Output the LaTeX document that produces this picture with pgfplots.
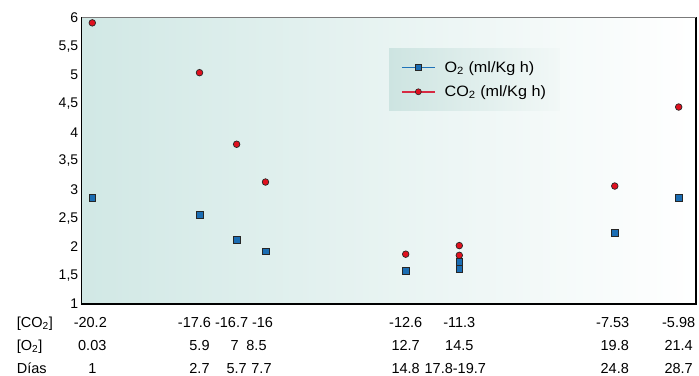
\documentclass[border=0pt]{standalone}
\usepackage{fontspec}
\setmainfont{Liberation Sans}
\newfontfamily\widefont{Liberation Sans}[FakeStretch=1.08]
\usepackage{pgfplots}
\pgfplotsset{compat=1.18}
\definecolor{bgl}{HTML}{D1E8E5}
\definecolor{bgm}{HTML}{E4F1EF}
\definecolor{lgl}{HTML}{CDE4E1}
\definecolor{lgr}{HTML}{F2F8F7}
\definecolor{o2fill}{HTML}{1B6DB3}
\definecolor{o2line}{HTML}{1F72B8}
\definecolor{co2fill}{HTML}{E0101E}
\definecolor{co2line}{HTML}{D62A42}
\definecolor{topgray}{HTML}{7A7A7A}
\newcommand\tl[3]{\begin{tabular}[t]{@{}c@{}}#1\\#2\\#3\end{tabular}}
\newcommand\sh[2]{\makebox[0pt]{\hspace*{#1}#2}}
\begin{document}
\begin{tikzpicture}
\path[use as bounding box] (-81.7bp,-72bp) rectangle (617.3bp,304bp);
\begin{axis}[
  name=ax,
  at={(0,0)}, anchor=south west,
  scale only axis,
  width=614.3bp, height=286.3bp,
  xmin=-20.457, xmax=-5.56,
  ymin=1, ymax=6,
  clip=false,
  axis background/.style={left color=bgl, middle color=bgm, right color=white},
  axis line style={line width=1.3bp, black},
  major tick length=0pt,
  ytick={1,1.5,2,2.5,3,3.5,4,4.5,5,5.5,6},
  yticklabel style={/pgf/number format/use comma, /pgf/number format/assume math mode=true,
    font=\fontsize{14bp}{16bp}\selectfont},
  xtick={-20.2,-17.6,-16.7,-16,-12.6,-11.3,-7.53,-5.98},
  xticklabels={{\tl{\sh{-4bp}{-20.2}}{0.03}{1}},
    {\tl{\sh{-10bp}{-17.6}}{5.9}{2.7}},
    {\tl{\sh{-10bp}{-16.7}}{\sh{-4bp}{7}}{5.7}},
    {\tl{\sh{-6bp}{-16}}{\sh{-18bp}{8.5}}{\sh{-8bp}{7.7}}},
    {\tl{-12.6}{12.7}{14.8}},
    {\tl{-11.3}{14.5}{\sh{-8bp}{17.8-19.7}}},
    {\tl{\sh{-4bp}{-7.53}}{19.8}{24.8}},
    {\tl{-5.98}{21.4}{28.7}}},
  xticklabel style={anchor=base, yshift=-23bp, font=\fontsize{14.5bp}{23bp}\selectfont},
  legend cell align=left,
  legend style={at={(0.5,0.894)}, anchor=north west, draw=none,
    left color=lgl, right color=lgr,
    inner xsep=12bp, inner ysep=11bp, row sep=8bp,
    /tikz/every odd column/.append style={column sep=7bp},
    font=\widefont\fontsize{15bp}{17bp}\selectfont},
]
\addplot[only marks, mark=square*, mark size=3.4bp,
  mark options={fill=o2fill, draw=black!85, line width=0.7bp},
  legend image code/.code={
    \draw[o2line, line width=1.6bp] (0bp,0bp) -- (33bp,0bp);
    \draw[mark=square*, mark size=3bp, mark options={fill=o2fill, draw=black!85, line width=0.6bp}] plot coordinates {(16.5bp,0bp)};
  }]
  coordinates {(-20.2,2.85) (-17.6,2.55) (-16.7,2.12) (-16,1.92) (-12.6,1.58) (-11.3,1.74) (-11.3,1.62) (-7.53,2.24) (-5.98,2.86)};
\addlegendentry{O\textsubscript{2} (ml/Kg h)}
\addplot[only marks, mark=*, mark size=3.3bp,
  mark options={fill=co2fill, draw=black!85, line width=0.7bp},
  legend image code/.code={
    \draw[co2line, line width=1.6bp] (0bp,0bp) -- (33bp,0bp);
    \draw[mark=*, mark size=3bp, mark options={fill=co2fill, draw=black!85, line width=0.6bp}] plot coordinates {(16.5bp,0bp)};
  }]
  coordinates {(-20.2,5.91) (-17.6,5.04) (-16.7,3.79) (-16,3.13) (-12.6,1.87) (-11.3,2.02) (-11.3,1.85) (-7.53,3.06) (-5.98,4.44)};
\addlegendentry{CO\textsubscript{2} (ml/Kg h)}
\draw[topgray, line width=1.4bp] (rel axis cs:0,1) -- (rel axis cs:1,1);
\end{axis}
\node[anchor=base west, inner sep=0pt, font=\fontsize{14.5bp}{23bp}\selectfont]
  at (-65bp,-23bp) {\begin{tabular}[t]{@{}l@{}}{[}CO\textsubscript{2}{]}\\{[}O\textsubscript{2}{]}\\Días\end{tabular}};
\end{tikzpicture}
\end{document}
